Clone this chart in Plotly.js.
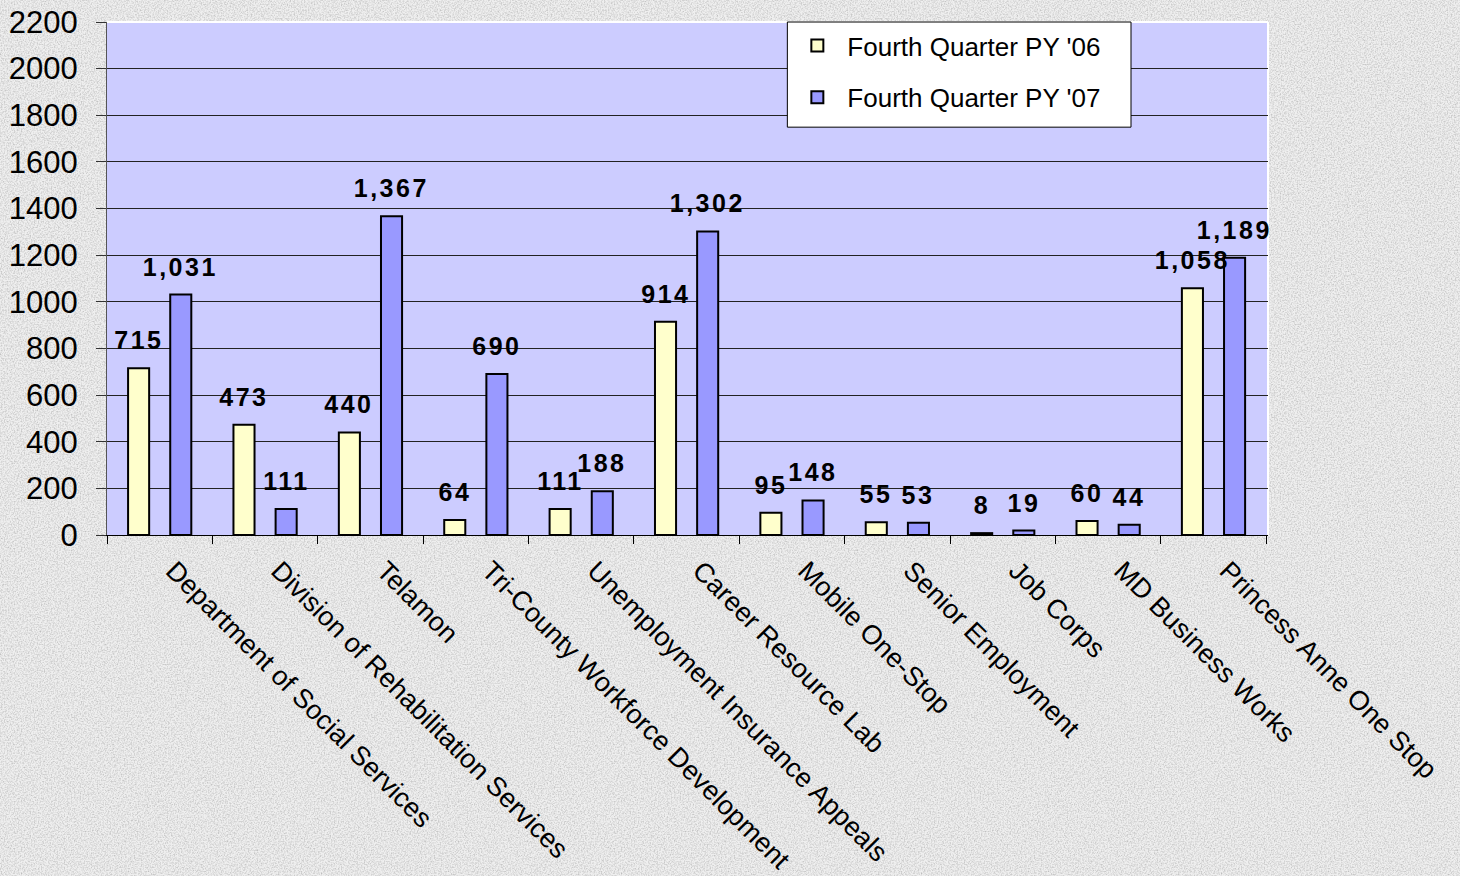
<!DOCTYPE html>
<html>
<head>
<meta charset="utf-8">
<script src="https://cdn.plot.ly/plotly-3.0.1.min.js"></script>
<style>
html,body{margin:0;padding:0;width:1460px;height:876px;overflow:hidden;}
body{background-color:#efefef;background-image:url("data:image/svg+xml;utf8,<svg xmlns='http://www.w3.org/2000/svg' width='300' height='300'><filter id='n'><feTurbulence type='fractalNoise' baseFrequency='0.7' numOctaves='3' stitchTiles='stitch'/><feColorMatrix values='0 0 0 0 0.4 0 0 0 0 0.4 0 0 0 0 0.4 0 0 0 1.3 -0.5'/></filter><rect width='100%' height='100%' filter='url(%23n)'/></svg>");}
#chart{width:1460px;height:876px;}
.annotation text{letter-spacing:2.5px;}
</style>
</head>
<body>
<div id="chart"></div>
<script>
const categories = [
  "Department of Social Services",
  "Division of Rehabilitation Services",
  "Telamon",
  "Tri-County Workforce Development",
  "Unemployment Insurance Appeals",
  "Career Resource Lab",
  "Mobile One-Stop",
  "Senior Employment",
  "Job Corps",
  "MD Business Works",
  "Princess Anne One Stop"
];
const py06 = [715, 473, 440, 64, 111, 914, 95, 55, 8, 60, 1058];
const py07 = [1031, 111, 1367, 690, 188, 1302, 148, 53, 19, 44, 1189];
const seriesNames = ["Fourth Quarter PY '06", "Fourth Quarter PY '07"];
const yTicks = [0, 200, 400, 600, 800, 1000, 1200, 1400, 1600, 1800, 2000, 2200];

const FONT = "Liberation Sans, Arial, sans-serif";

function barTrace(name, values, color, group) {
  return {
    type: "bar",
    name: name,
    x: categories,
    y: values,
    legendgroup: group,
    marker: {color: color, line: {color: "#000", width: 2}},
    hoverinfo: "x+y"
  };
}

const data = [
  barTrace(seriesNames[0], py06, "#ffffcc", "a"),
  barTrace(seriesNames[1], py07, "#9999ff", "b")
];

// value labels above each bar, taken from the series arrays
const annotations = [];
[[py06, -21], [py07, 21]].forEach(([vals, dx]) => {
  vals.forEach((v, j) => {
    annotations.push({
      x: categories[j], y: v, xref: "x", yref: "y",
      text: v.toLocaleString("en-US"),
      showarrow: false, xanchor: "center", yanchor: "bottom",
      xshift: dx, yshift: 12,
      font: {family: FONT, size: 25, color: "#000", weight: 700}
    });
  });
});

const shapes = [
  // legend box
  {type: "rect", xref: "paper", yref: "paper", x0: 0.586, x1: 0.882, y0: 0.795, y1: 1,
   fillcolor: "#ffffff", line: {color: "#000", width: 1}, layer: "above"},
  // white plot-area border (top and right)
  {type: "line", xref: "paper", yref: "paper", x0: 0, x1: 1, y0: 1, y1: 1,
   line: {color: "#ffffff", width: 2}, layer: "below"},
  {type: "line", xref: "paper", yref: "paper", x0: 1, x1: 1, y0: 0, y1: 1,
   line: {color: "#ffffff", width: 2}, layer: "below"}
];

const layout = {
  width: 1460,
  height: 876,
  margin: {l: 107, r: 192, t: 22, b: 341, pad: 0},
  paper_bgcolor: "rgba(0,0,0,0)",
  plot_bgcolor: "#ccccff",
  font: {family: FONT, color: "#000"},
  barmode: "group",
  bargap: 0.2,
  bargroupgap: 0.5,
  showlegend: true,
  annotations: annotations,
  shapes: shapes,
  legend: {
    x: 0.586, y: 1, xanchor: "left", yanchor: "top",
    bgcolor: "rgba(0,0,0,0)",
    borderwidth: 0,
    font: {family: FONT, size: 26, color: "#000"},
    traceorder: "grouped",
    tracegroupgap: 15,
    itemwidth: 50,
    itemclick: false
  },
  xaxis: {
    type: "category",
    tickangle: 45,
    tickson: "boundaries",
    ticks: "outside",
    ticklen: 8,
    tickcolor: "#000",
    showline: true,
    linecolor: "#000",
    linewidth: 1,
    showgrid: false,
    tickfont: {family: FONT, size: 27, color: "#000"},
    ticklabelstandoff: 8,
    ticklabelshift: 14,
    automargin: false
  },
  yaxis: {
    range: [0, 2200],
    tickvals: yTicks,
    ticktext: yTicks.map(String),
    ticks: "outside",
    ticklen: 10,
    tickcolor: "#333",
    showline: true,
    linecolor: "#555",
    linewidth: 1,
    showgrid: true,
    gridcolor: "#222",
    gridwidth: 1,
    zeroline: false,
    tickfont: {family: FONT, size: 31, color: "#000"},
    ticklabelstandoff: 12,
    automargin: false
  }
};

Plotly.newPlot("chart", data, layout, {displayModeBar: false, staticPlot: true});
</script>
</body>
</html>
